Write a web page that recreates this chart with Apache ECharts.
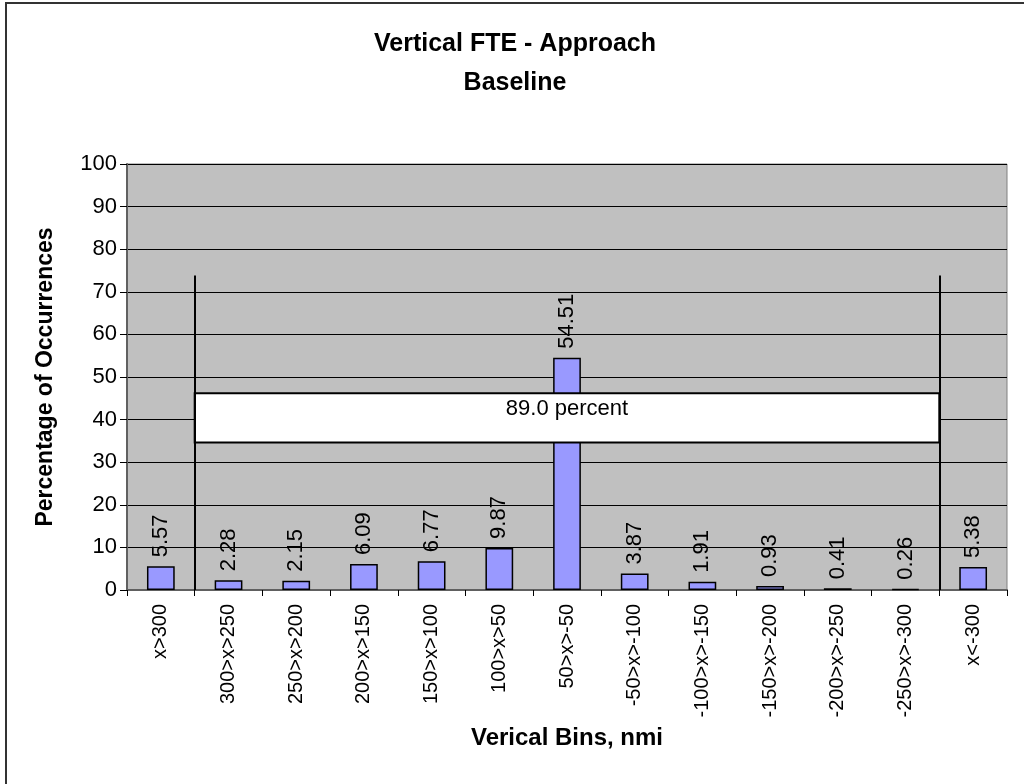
<!DOCTYPE html>
<html>
<head>
<meta charset="utf-8">
<script src="https://cdn.jsdelivr.net/npm/echarts@6/dist/echarts.min.js"></script>
<style>
  html, body { margin: 0; padding: 0; background: #fff; }
  #chart { width: 1024px; height: 784px; }
</style>
</head>
<body>
<div id="chart"></div>
<script>
// Bins of vertical flight technical error and their share of occurrences (%)
const bins = ["x>300", "300>x>250", "250>x>200", "200>x>150", "150>x>100", "100>x>50",
  "50>x>-50", "-50>x>-100", "-100>x>-150", "-150>x>-200", "-200>x>-250", "-250>x>-300", "x<-300"];
const percentages = [5.57, 2.28, 2.15, 6.09, 6.77, 9.87, 54.51, 3.87, 1.91, 0.93, 0.41, 0.26, 5.38];

// Bracket marking the bins inside +/-300 and the share they hold
const bracketEdges = [1, 12];      // bin boundaries (in bin units)
const bracketTop = 73.8;
const boxBottom = 34.6;
const boxTop = 46.2;
const bracketText = "89.0 percent";

const FONT = "Liberation Sans, Arial, sans-serif";

const chart = echarts.init(document.getElementById("chart"), null, { renderer: "canvas" });

chart.setOption({
  backgroundColor: "#ffffff",
  animation: false,
  title: {
    text: "Vertical FTE - Approach\nBaseline",
    left: 510,
    textAlign: "center",
    top: 20,
    textStyle: { fontFamily: FONT, fontSize: 25, fontWeight: "bold", color: "#000", lineHeight: 39 }
  },
  graphic: [{
    type: "rect",
    shape: { x: 6, y: 3, width: 1040, height: 800 },
    style: { fill: "none", stroke: "#333", lineWidth: 2 },
    silent: true,
    z: 100
  }],
  grid: {
    left: 127, right: 17, top: 164, bottom: 194,
    show: true, backgroundColor: "#C0C0C0", borderColor: "#808080", borderWidth: 1
  },
  xAxis: [{
    type: "category",
    data: bins,
    name: "Verical Bins, nmi",
    nameLocation: "middle",
    nameGap: 136,
    nameTextStyle: { fontFamily: FONT, fontSize: 24, fontWeight: "bold", color: "#000" },
    axisLine: { lineStyle: { color: "#606060", width: 2 } },
    axisTick: { show: true, length: 6, lineStyle: { color: "#000" } },
    axisLabel: { rotate: 90, fontFamily: FONT, fontSize: 20, color: "#000", margin: 14, interval: 0 },
    splitLine: { show: false }
  }, {
    type: "value",
    min: 0, max: 13,
    show: false
  }],
  yAxis: {
    type: "value",
    min: 0, max: 100, interval: 10,
    name: "Percentage of Occurrences",
    nameLocation: "middle",
    nameGap: 70,
    nameTextStyle: { fontFamily: FONT, fontSize: 23, fontWeight: "bold", color: "#000" },
    axisLine: { show: true, lineStyle: { color: "#606060", width: 2 } },
    axisTick: { show: true, length: 7, lineStyle: { color: "#000" } },
    axisLabel: { fontFamily: FONT, fontSize: 22, color: "#000", margin: 10 },
    splitLine: { show: true, lineStyle: { color: "#000", width: 1 } }
  },
  series: [{
    type: "bar",
    data: percentages,
    barWidth: "41%",
    itemStyle: { color: "#9999FF", borderColor: "#000", borderWidth: 1.5 },
    label: {
      show: true,
      position: "top",
      rotate: 90,
      align: "left",
      verticalAlign: "middle",
      distance: 9,
      fontFamily: FONT,
      fontSize: 22,
      color: "#000",
      formatter: p => p.value.toFixed(2)
    },
    z: 3
  }, {
    type: "line",
    xAxisIndex: 1,
    data: [[bracketEdges[0], 0]],
    showSymbol: false,
    symbolSize: 0,
    lineStyle: { opacity: 0 },
    z: 10,
    markLine: {
      silent: true,
      symbol: "none",
      z: 10,
      label: { show: false },
      lineStyle: { color: "#000", width: 2, type: "solid" },
      data: bracketEdges.map(e => [{ coord: [e, 0] }, { coord: [e, bracketTop] }])
    },
    markArea: {
      silent: true,
      z: 10,
      itemStyle: { color: "#ffffff", borderColor: "#000", borderWidth: 2 },
      label: {
        show: true,
        position: "insideTop",
        distance: 6,
        fontFamily: FONT,
        fontSize: 22,
        color: "#000"
      },
      data: [[{ name: bracketText, coord: [bracketEdges[0], boxTop] }, { coord: [bracketEdges[1], boxBottom] }]]
    }
  }]
});
</script>
</body>
</html>
